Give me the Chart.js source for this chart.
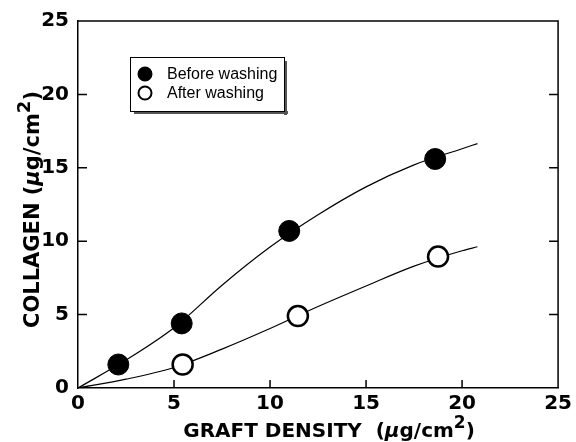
<!DOCTYPE html>
<html><head><meta charset="utf-8">
<script src="https://cdn.jsdelivr.net/npm/chart.js@4"></script>
<style>html,body{margin:0;padding:0;background:#fff}#wrap{width:576px;height:442px}</style>
</head><body><div id="wrap"><canvas id="c" width="576" height="442"></canvas></div>
<script>
// Measured data (graft density µg/cm², collagen µg/cm²)
const beforeX = [2.1, 5.4, 11.0, 18.6];
const beforeY = [1.6, 4.4, 10.7, 15.6];
const afterX = [5.45, 11.45, 18.75];
const afterY = [1.6, 4.9, 8.95];
// Fitted curves
const fitX = [0, 2.5, 5, 7.5, 10, 12.5, 15, 17.5, 20, 20.8];
const fitBefore = [0, 1.9, 4.1, 7.0, 9.6, 11.8, 13.7, 15.2, 16.3, 16.65];
const fitAfter = [0, 0.6, 1.4, 2.65, 4.05, 5.55, 6.95, 8.3, 9.35, 9.62];
const xTicks = [0, 5, 10, 15, 20, 25];
const yTicks = [0, 5, 10, 15, 20, 25];
const legendLabels = ['Before washing', 'After washing'];
const xTitle = [['GRAFT DENSITY  (', 'n'], ['\u03bc', 'i'], ['g/cm', 'n'], ['2', 's'], [')', 'n']];
const yTitle = [['COLLAGEN (', 'n'], ['\u03bc', 'i'], ['g/cm', 'n'], ['2', 's'], [')', 'n']];

const zip = (xs, ys) => xs.map((x, i) => ({x: x, y: ys[i]}));
const FONT = '"DejaVu Sans", sans-serif';

function drawRich(ctx, segs, size, supSize) {
  const fontOf = t => t === 's' ? `bold ${supSize}px ${FONT}` : (t === 'i' ? `italic bold ${size}px ${FONT}` : `bold ${size}px ${FONT}`);
  let total = 0;
  segs.forEach(([s, t]) => { ctx.font = fontOf(t); total += ctx.measureText(s).width; });
  let x = -total / 2;
  ctx.textBaseline = 'alphabetic';
  ctx.textAlign = 'left';
  segs.forEach(([s, t]) => {
    ctx.font = fontOf(t);
    ctx.fillText(s, x, t === 's' ? -size * 0.45 : 0);
    x += ctx.measureText(s).width;
  });
}

const decor = {
  id: 'decor',
  afterDraw(chart) {
    const ctx = chart.ctx, a = chart.chartArea;
    const xs = chart.scales.x, ys = chart.scales.y;
    ctx.save();
    ctx.strokeStyle = '#000'; ctx.fillStyle = '#000';
    // frame top/right
    ctx.lineWidth = 1.5;
    ctx.beginPath();
    ctx.moveTo(a.left, a.top); ctx.lineTo(a.right, a.top); ctx.lineTo(a.right, a.bottom);
    ctx.stroke();
    // inward ticks
    ctx.lineWidth = 1.5;
    ctx.beginPath();
    yTicks.forEach(v => {
      if (v === yTicks[0] || v === yTicks[yTicks.length - 1]) return;
      const p = ys.getPixelForValue(v);
      ctx.moveTo(a.left, p); ctx.lineTo(a.left + 9, p);
      ctx.moveTo(a.right, p); ctx.lineTo(a.right - 9, p);
    });
    xTicks.forEach(v => {
      if (v === xTicks[0] || v === xTicks[xTicks.length - 1]) return;
      const p = xs.getPixelForValue(v);
      ctx.moveTo(p, a.bottom); ctx.lineTo(p, a.bottom - 8);
    });
    ctx.stroke();
    // axis titles
    ctx.save();
    ctx.translate((a.left + a.right) / 2 + 11, 437);
    drawRich(ctx, xTitle, 20, 17);
    ctx.restore();
    ctx.save();
    ctx.translate(39, (a.top + a.bottom) / 2 + 5);
    ctx.rotate(-Math.PI / 2);
    drawRich(ctx, yTitle, 21, 18);
    ctx.restore();
    // legend
    const lx = 130, ly = 57, lw = 154, lh = 54;
    ctx.fillStyle = '#555';
    ctx.fillRect(lx + 4, ly + lh, lw, 3);
    ctx.fillRect(lx + lw, ly + 4, 3, lh);
    ctx.fillStyle = '#fff';
    ctx.fillRect(lx, ly, lw, lh);
    ctx.strokeStyle = '#000'; ctx.lineWidth = 1;
    ctx.strokeRect(lx + 0.5, ly + 0.5, lw, lh);
    const ds = chart.data.datasets;
    [0, 1].forEach(i => {
      const cy = ly + 17 + i * 19;
      ctx.beginPath();
      ctx.arc(lx + 15, cy, 6.5, 0, Math.PI * 2);
      ctx.fillStyle = ds[i].backgroundColor;
      ctx.fill();
      ctx.lineWidth = 2; ctx.strokeStyle = '#000';
      ctx.stroke();
      ctx.fillStyle = '#000';
      ctx.font = '16px "Liberation Sans", Arial, sans-serif';
      ctx.textBaseline = 'middle'; ctx.textAlign = 'left';
      ctx.fillText(legendLabels[i], lx + 37, cy + 1);
    });
    ctx.restore();
  }
};

const tickFont = {family: FONT, size: 20, weight: 'bold'};
new Chart(document.getElementById('c'), {
  type: 'scatter',
  data: {
    datasets: [
      {label: legendLabels[0], data: zip(beforeX, beforeY), backgroundColor: '#000', borderColor: '#000', pointRadius: 10.5, pointHoverRadius: 10.5, borderWidth: 1, order: 0},
      {label: legendLabels[1], data: zip(afterX, afterY), backgroundColor: '#fff', borderColor: '#000', pointRadius: 10, pointHoverRadius: 10, borderWidth: 2.5, order: 0},
      {label: 'fit before', data: zip(fitX, fitBefore), showLine: true, pointRadius: 0, borderColor: '#000', borderWidth: 1.2, cubicInterpolationMode: 'monotone', order: 1},
      {label: 'fit after', data: zip(fitX, fitAfter), showLine: true, pointRadius: 0, borderColor: '#000', borderWidth: 1.2, cubicInterpolationMode: 'monotone', order: 1}
    ]
  },
  options: {
    responsive: false, animation: false, devicePixelRatio: 1,
    layout: {padding: {left: 0, top: 18, right: 16, bottom: 0}},
    plugins: {legend: {display: false}, tooltip: {enabled: false}},
    scales: {
      x: {
        type: 'linear', min: 0, max: 25,
        afterBuildTicks: s => { s.ticks = xTicks.map(v => ({value: v})); },
        afterFit: s => { s.height = 54; },
        ticks: {font: tickFont, color: '#000', padding: 4, maxRotation: 0},
        grid: {drawOnChartArea: false, drawTicks: false},
        border: {color: '#000', width: 1.5}
      },
      y: {
        type: 'linear', min: 0, max: 25,
        afterBuildTicks: s => { s.ticks = yTicks.map(v => ({value: v})); },
        afterFit: s => { s.width = 78; },
        ticks: {font: tickFont, color: '#000', padding: 9},
        grid: {drawOnChartArea: false, drawTicks: false},
        border: {color: '#000', width: 1.5}
      }
    }
  },
  plugins: [decor]
});
</script></body></html>
